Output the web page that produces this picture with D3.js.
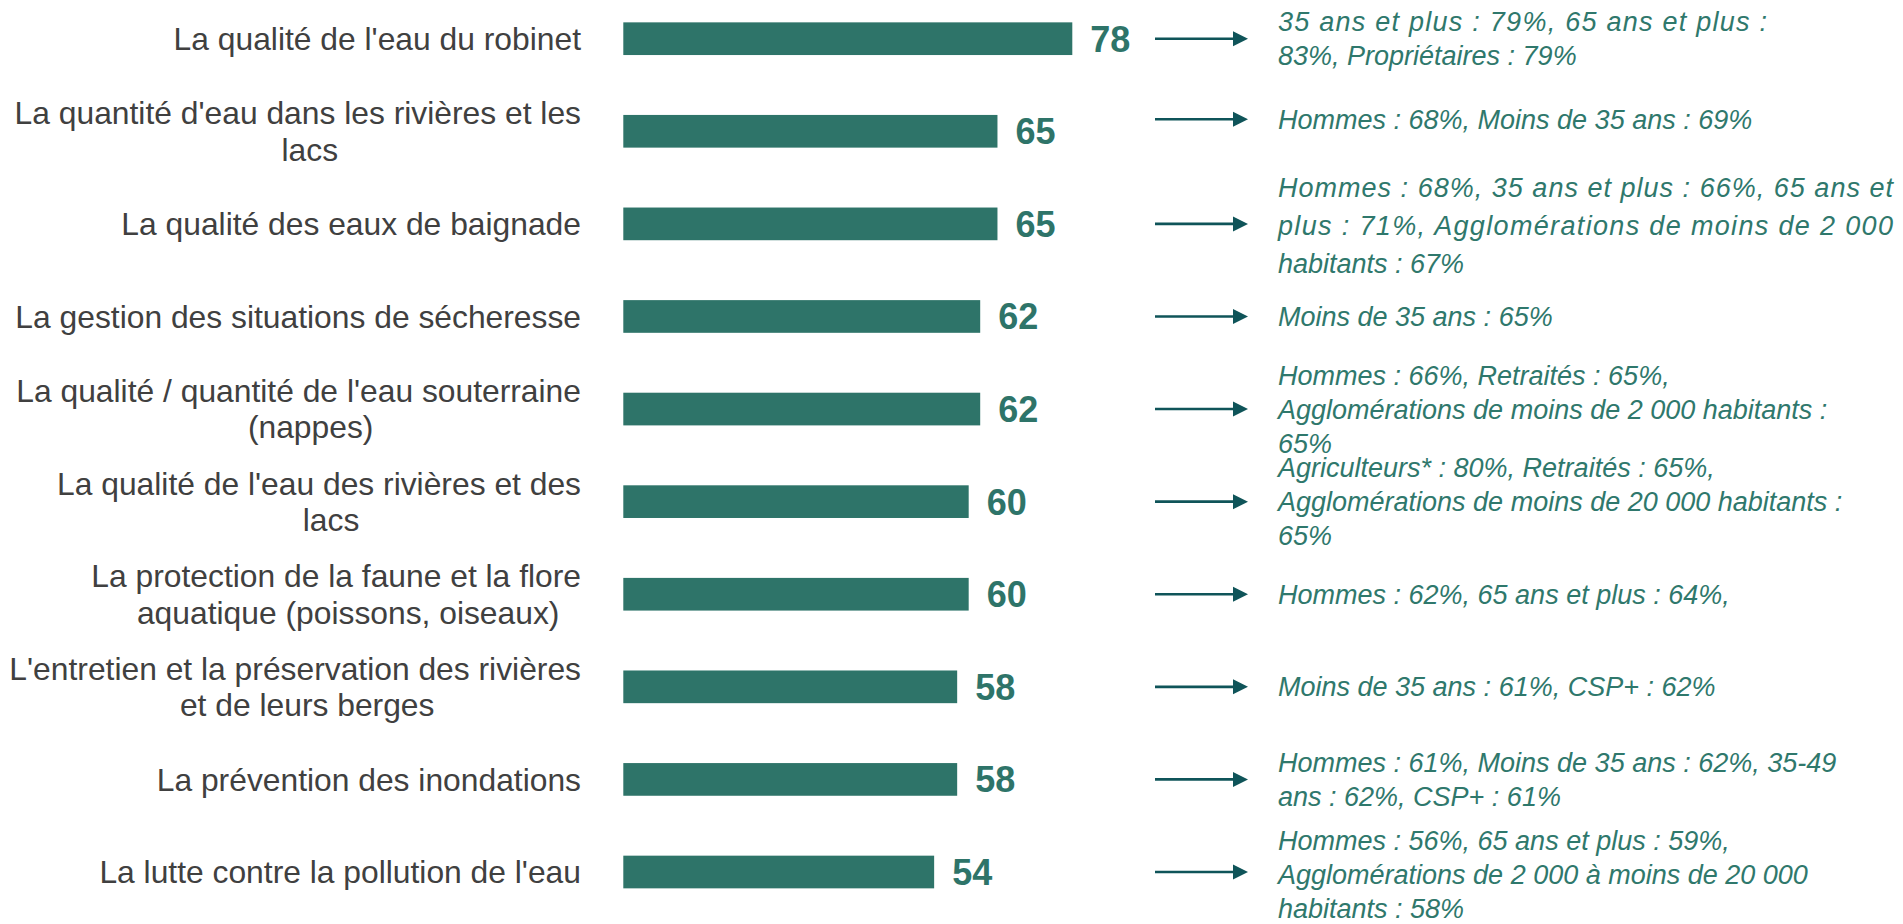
<!DOCTYPE html>
<html>
<head>
<meta charset="utf-8">
<script src="https://cdn.jsdelivr.net/npm/d3@7"></script>
<style>
  html, body { margin: 0; padding: 0; background: #ffffff; }
  svg { display: block; }
</style>
</head>
<body>
<script>
// ---------- data ----------
const categories = [
  "La qualité de l'eau du robinet",
  "La quantité d'eau dans les rivières et les\nlacs",
  "La qualité des eaux de baignade",
  "La gestion des situations de sécheresse",
  "La qualité / quantité de l'eau souterraine\n(nappes)",
  "La qualité de l'eau des rivières et des\nlacs",
  "La protection de la faune et la flore\naquatique (poissons, oiseaux)",
  "L'entretien et la préservation des rivières\net de leurs berges",
  "La prévention des inondations",
  "La lutte contre la pollution de l'eau"
];
const values = [78, 65, 65, 62, 62, 60, 60, 58, 58, 54];
const notes = [
  ["35 ans et plus : 79%, 65 ans et plus :", "83%, Propriétaires : 79%"],
  ["Hommes : 68%, Moins de 35 ans : 69%"],
  ["Hommes : 68%, 35 ans et plus : 66%, 65 ans et", "plus : 71%, Agglomérations de moins de 2 000", "habitants : 67%"],
  ["Moins de 35 ans : 65%"],
  ["Hommes : 66%, Retraités : 65%,", "Agglomérations de moins de 2 000 habitants :", "65%"],
  ["Agriculteurs* : 80%, Retraités : 65%,", "Agglomérations de moins de 20 000 habitants :", "65%"],
  ["Hommes : 62%, 65 ans et plus : 64%,"],
  ["Moins de 35 ans : 61%, CSP+ : 62%"],
  ["Hommes : 61%, Moins de 35 ans : 62%, 35-49", "ans : 62%, CSP+ : 61%"],
  ["Hommes : 56%, 65 ans et plus : 59%,", "Agglomérations de 2 000 à moins de 20 000", "habitants : 58%"]
];

// ---------- layout / style ----------
const W = 1903, H = 924;
const barColor = "#2e7469";
const noteColor = "#2f786c";
const arrowColor = "#0f5459";
const labelColor = "#404040";
const justified = { 0: 1767, 2: 1893 };   // notes whose non-final lines are justified to a right edge
const noteNudge = { 1: -12, 2: 2, 9: 3 }; // small vertical nudges of annotation blocks (layout only)
const noteLineH = { 2: 38 };

const svg = d3.select("body").append("svg")
  .attr("width", W).attr("height", H)
  .style("background", "#fff");

const x = d3.scaleLinear().domain([0, 78]).range([623.3, 1072.3]);
const y = d3.scaleBand().domain(d3.range(categories.length))
  .range([-7.6, 918.3]).paddingInner(0.647).paddingOuter(0.3235);
const cy = i => y(i) + y.bandwidth() / 2;

// bars
svg.append("g").selectAll("rect").data(values).join("rect")
  .attr("x", x(0))
  .attr("y", (d, i) => y(i))
  .attr("width", d => x(d) - x(0))
  .attr("height", y.bandwidth())
  .attr("fill", barColor);

// value labels
svg.append("g").selectAll("text").data(values).join("text")
  .attr("x", d => x(d) + 18)
  .attr("y", (d, i) => cy(i))
  .attr("dy", "0.36em")
  .attr("font-family", "Liberation Sans, Arial, sans-serif")
  .attr("font-weight", "bold")
  .attr("font-size", 36)
  .attr("fill", barColor)
  .text(d => d);

// category labels
const labelRight = 581;
const catFont = 31.8, catLH = 36.4;
const catG = svg.append("g")
  .attr("font-family", "Liberation Sans, Arial, sans-serif")
  .attr("font-size", catFont)
  .attr("fill", labelColor);
categories.forEach((c, i) => {
  const lines = c.split("\n");
  const t = catG.append("text");
  const spans = lines.map((l, k) => t.append("tspan").text(l)
    .attr("y", cy(i) + (k - (lines.length - 1) / 2) * catLH)
    .attr("dy", "0.35em"));
  if (lines.length === 1) {
    t.attr("text-anchor", "end");
    spans[0].attr("x", labelRight);
  } else {
    const widths = spans.map(s => s.node().getComputedTextLength());
    const maxW = d3.max(widths);
    const centre = labelRight - maxW / 2 + 12;
    t.attr("text-anchor", "middle");
    spans.forEach((s, k) => s.attr("x", widths[k] === maxW ? labelRight - maxW / 2 : centre));
  }
});

// arrows
const arrowG = svg.append("g");
const ax0 = 1155, ax1 = 1248, headL = 15, headH = 7.5;
values.forEach((v, i) => {
  const yy = cy(i) + (i === 1 ? -12 : 0);
  arrowG.append("line")
    .attr("x1", ax0).attr("x2", ax1 - headL + 1)
    .attr("y1", yy).attr("y2", yy)
    .attr("stroke", arrowColor).attr("stroke-width", 2.6);
  arrowG.append("path")
    .attr("d", `M${ax1 - headL},${yy - headH}L${ax1},${yy}L${ax1 - headL},${yy + headH}Z`)
    .attr("fill", arrowColor);
});

// notes
const noteX = 1278, noteFont = 27, noteLH = 34;
const noteG = svg.append("g")
  .attr("font-family", "Liberation Sans, Arial, sans-serif")
  .attr("font-style", "italic")
  .attr("font-size", noteFont)
  .attr("fill", noteColor);
notes.forEach((lines, i) => {
  const t = noteG.append("text");
  const lh = noteLineH[i] || noteLH;
  const base = cy(i) + (noteNudge[i] || 0);
  lines.forEach((l, k) => {
    const s = t.append("tspan").text(l)
      .attr("x", noteX)
      .attr("y", base + (k - (lines.length - 1) / 2) * lh)
      .attr("dy", "0.35em");
    if (justified[i] !== undefined && k < lines.length - 1) {
      s.attr("textLength", justified[i] - noteX).attr("lengthAdjust", "spacing");
    }
  });
});
</script>
</body>
</html>
